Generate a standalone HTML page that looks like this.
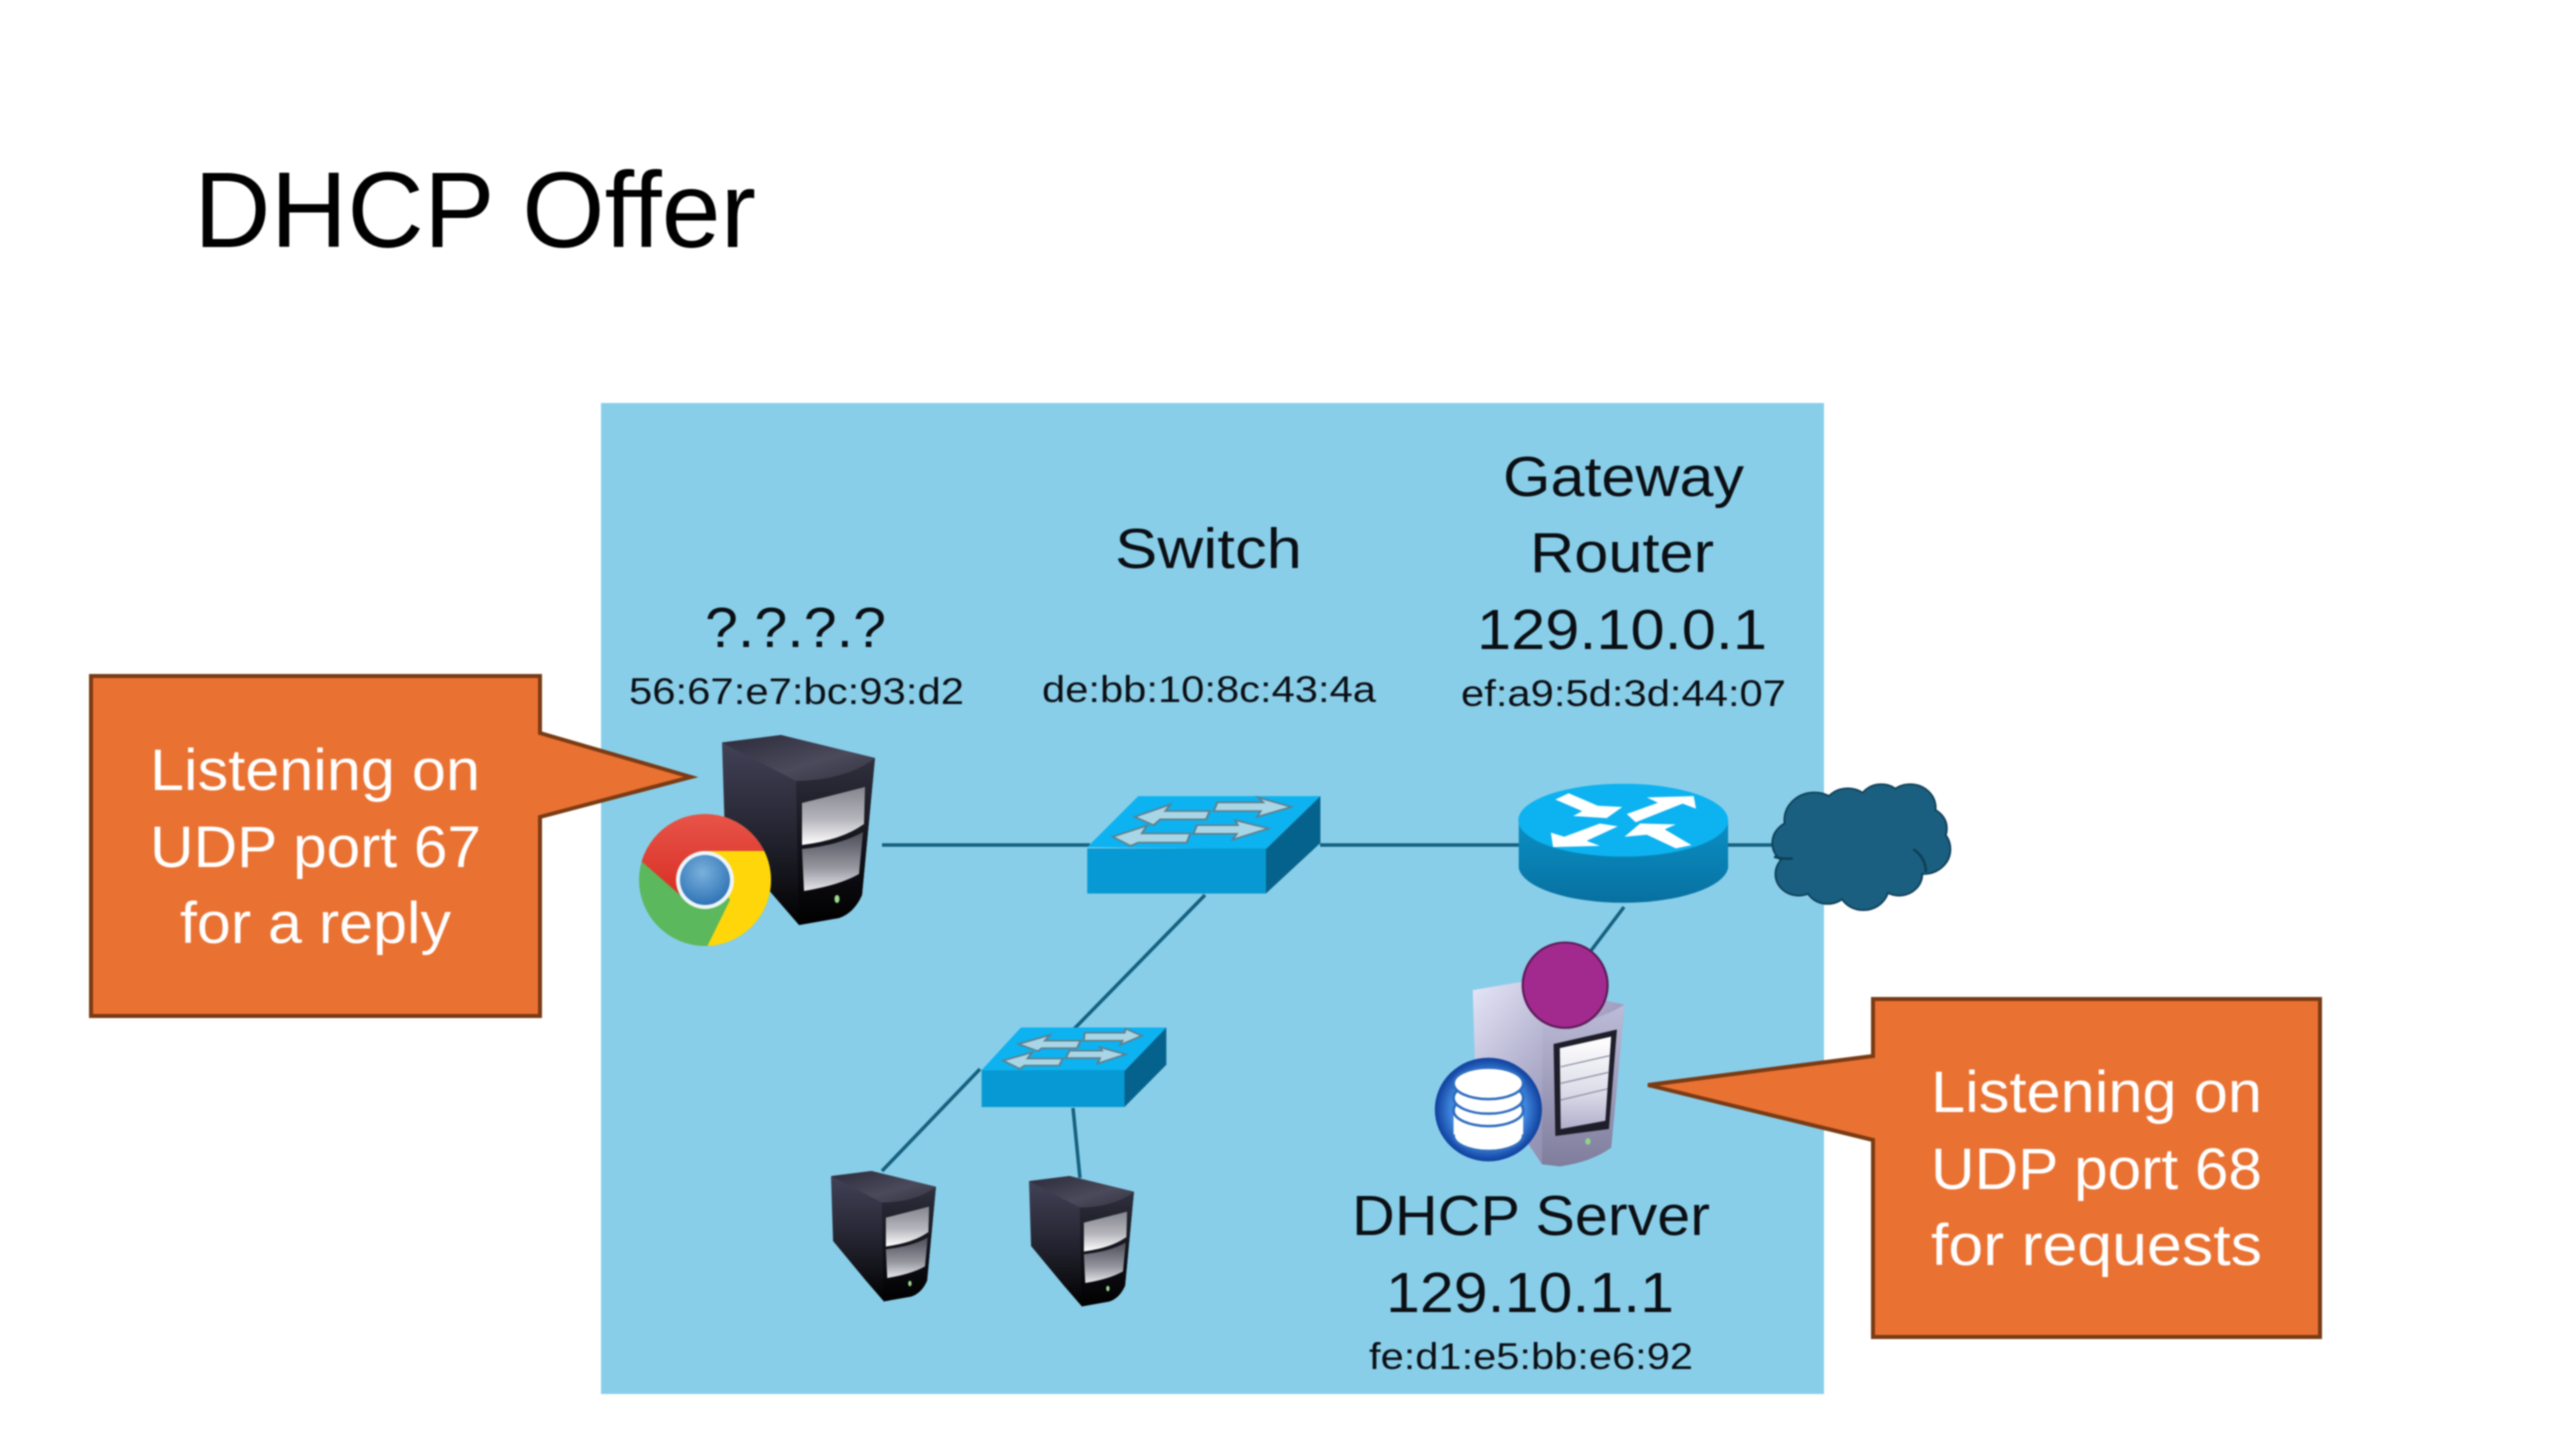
<!DOCTYPE html>
<html><head><meta charset="utf-8"><title>DHCP Offer</title>
<style>html,body{margin:0;padding:0;background:#fff}svg{display:block;filter:blur(.7px)}text{font-family:"Liberation Sans",sans-serif}</style>
</head><body>
<svg xmlns="http://www.w3.org/2000/svg" width="2560" height="1440" viewBox="0 0 2560 1440">
<defs>
<linearGradient id="tTop" x1="0" y1="0" x2="1" y2="1"><stop offset="0" stop-color="#2b2b3a"/><stop offset=".6" stop-color="#4a4a5c"/><stop offset="1" stop-color="#33333f"/></linearGradient>
<linearGradient id="tSide" x1="0" y1="0" x2="0" y2="1"><stop offset="0" stop-color="#44445a"/><stop offset=".55" stop-color="#22222e"/><stop offset="1" stop-color="#000"/></linearGradient>
<linearGradient id="tFront" x1="0" y1="0" x2="0" y2="1"><stop offset="0" stop-color="#30303e"/><stop offset=".5" stop-color="#14141c"/><stop offset="1" stop-color="#000"/></linearGradient>
<linearGradient id="bay1" x1="0" y1="0" x2="0" y2="1"><stop offset="0" stop-color="#85858e"/><stop offset=".55" stop-color="#b4b4bb"/><stop offset="1" stop-color="#fff"/></linearGradient>
<linearGradient id="bay2" x1="0" y1="0" x2="0" y2="1"><stop offset="0" stop-color="#4d4d58"/><stop offset=".6" stop-color="#95959e"/><stop offset="1" stop-color="#e6e6ec"/></linearGradient>
<linearGradient id="rBody" x1="0" y1="0" x2="0" y2="1"><stop offset="0" stop-color="#0a8fc4"/><stop offset="1" stop-color="#0770a0"/></linearGradient>
<linearGradient id="dSide" x1="0" y1="0" x2="1" y2="1"><stop offset="0" stop-color="#e6e6f8"/><stop offset=".6" stop-color="#9a98ba"/><stop offset="1" stop-color="#7a7896"/></linearGradient>
<linearGradient id="dFront" x1="0" y1="0" x2="0" y2="1"><stop offset="0" stop-color="#bdbcd8"/><stop offset="1" stop-color="#7f7d9c"/></linearGradient>
<linearGradient id="dScreen" x1="0" y1="0" x2="0" y2="1"><stop offset="0" stop-color="#fff"/><stop offset=".6" stop-color="#dcdce8"/><stop offset="1" stop-color="#b0aecb"/></linearGradient>
<radialGradient id="blue" cx=".45" cy=".35" r=".7"><stop offset="0" stop-color="#7ab0dc"/><stop offset="1" stop-color="#2a70b4"/></radialGradient>
<radialGradient id="dbRing" cx=".5" cy=".5" r=".5"><stop offset=".7" stop-color="#3f86dc"/><stop offset="1" stop-color="#0f3f9e"/></radialGradient>
<linearGradient id="cRed" x1="0" y1="0" x2="0" y2="1"><stop offset="0" stop-color="#E8554A"/><stop offset="1" stop-color="#D92F25"/></linearGradient>
<clipPath id="chromeClip"><circle cx="705" cy="880" r="66"/></clipPath>
<g id="tower">
<path d="M0 7.5 L59 0 L153 23 L140 160 Q132 178 117 183 L77 190 L51 160 L3 102 Z" fill="url(#tSide)"/>
<path d="M74 46 Q125 45 153 23 L140 160 Q132 178 117 183 L77 190 Z" fill="url(#tFront)"/>
<path d="M0 7.5 L59 0 L153 23 Q125 45 74 46 Z" fill="url(#tTop)"/>
<path d="M80 68 L143 52 L142 89 Q120 105 80 110 Z" fill="url(#bay1)"/>
<path d="M80 114 Q118 110 141 97 L137 139 Q118 150 82 156 Z" fill="url(#bay2)"/>
<ellipse cx="115" cy="164" rx="2.5" ry="4" fill="#9bdc8e"/>
</g>
</defs>

<rect width="2560" height="1440" fill="#fff"/>
<rect x="601" y="403" width="1223" height="991" fill="#89CEE9"/>

<!-- connectors -->
<g stroke="#14607F" stroke-width="3.5" fill="none">
<line x1="882" y1="845" x2="1090" y2="845"/>
<line x1="1320" y1="845" x2="1520" y2="845"/>
<line x1="1728" y1="845" x2="1775" y2="845"/>
<line x1="1205" y1="895" x2="1074" y2="1029"/>
<line x1="980" y1="1069" x2="882" y2="1171"/>
<line x1="1073" y1="1108" x2="1080" y2="1178"/>
<line x1="1624" y1="907" x2="1590" y2="952"/>
</g>

<!-- left callout -->
<polygon points="91,676 540,676 540,733 691,777 540,817 540,1016 91,1016" fill="#E97132" stroke="#7A3B14" stroke-width="4" stroke-linejoin="miter"/>
<!-- right callout -->
<polygon points="1873,999 2320,999 2320,1337 1873,1337 1873,1140 1648,1085 1873,1056" fill="#E97132" stroke="#7A3B14" stroke-width="4"/>

<!-- towers -->
<use href="#tower" transform="translate(722,735)"/>
<use href="#tower" transform="translate(831,1171) scale(.686)"/>
<use href="#tower" transform="translate(1029,1176) scale(.686)"/>

<!-- chrome -->
<g clip-path="url(#chromeClip)">
<rect x="630" y="805" width="150" height="150" fill="#5CB85C"/>
<polygon points="640,860 655,810 770,810 775,851 705,851 680,895" fill="url(#cRed)"/>
<polygon points="705,851 780,851 780,955 703,955 730,900" fill="#FFD60A"/>
</g>
<circle cx="705" cy="880" r="29" fill="#EEF5F8"/>
<circle cx="705" cy="880" r="25" fill="url(#blue)"/>

<!-- big switch (zoom coordinates) -->
<g transform="translate(600,700) scale(.5102,.4145)">
<polygon points="955,355 1055,232 1412,232 1305,360" fill="#0DB2F0"/>
<rect x="955" y="358" width="350" height="109" fill="#0799D3"/>
<polygon points="1305,360 1412,232 1412,345 1305,467" fill="#05628C"/>
<g fill="#A9D6E6" stroke="#5f7f8c" stroke-width="4">
<polygon points="1048,282 1118,252 1108,268 1195,268 1188,288 1098,288 1085,302"/>
<polygon points="1355,258 1288,282 1295,268 1203,268 1210,247 1300,247 1290,235"/>
<polygon points="1005,330 1072,303 1062,322 1157,322 1150,344 1055,344 1040,352"/>
<polygon points="1310,310 1240,337 1248,323 1163,323 1170,302 1250,302 1245,290"/>
</g>
<!-- small switch -->
<polygon points="748,893 825,790 1110,790 1028,895" fill="#0DB2F0"/>
<rect x="748" y="893" width="280" height="89" fill="#0799D3"/>
<polygon points="1028,895 1110,790 1110,880 1028,982" fill="#05628C"/>
<g fill="#A9D6E6" stroke="#5f7f8c" stroke-width="4">
<polygon points="820,830 882,808 872,822 942,822 935,840 866,840 858,847"/>
<polygon points="1062,810 1020,832 1024,822 948,822 950,803 1028,803 1030,793"/>
<polygon points="790,870 847,850 838,865 907,865 900,882 832,882 823,890"/>
<polygon points="1030,855 975,877 980,864 913,864 920,846 984,846 980,838"/>
</g>
</g>

<!-- router + cloud + DHCP server (zoom coordinates) -->
<g transform="translate(1350,700) scale(.4464,.4145)">
<path d="M378 290 L378 405 A235 90 0 0 0 847 405 L847 290 Z" fill="url(#rBody)"/>
<ellipse cx="612" cy="290" rx="235" ry="88" fill="#0DB2F0"/>
<g fill="#fff">
<polygon points="460,240 490,225 555,255 610,258 575,285 500,280 520,268"/>
<polygon points="620,275 690,248 665,235 770,232 775,262 745,250 640,295"/>
<polygon points="600,305 530,340 560,352 455,355 450,320 480,330 560,298"/>
<polygon points="765,350 730,358 665,325 615,330 650,298 730,300 705,312"/>
</g>
<!-- cloud -->
<g fill="#0E3F58" stroke="#0E3F58" stroke-width="8">
<circle cx="1040" cy="290" r="65"/><circle cx="1115" cy="270" r="55"/><circle cx="1190" cy="255" r="50"/><circle cx="1255" cy="260" r="55"/><circle cx="1285" cy="310" r="50"/><circle cx="1285" cy="360" r="58"/><circle cx="1230" cy="420" r="50"/><circle cx="1150" cy="450" r="55"/><circle cx="1070" cy="440" r="50"/><circle cx="1005" cy="420" r="50"/><circle cx="1000" cy="345" r="52"/>
</g>
<g fill="#1A5F80">
<circle cx="1040" cy="290" r="65"/><circle cx="1115" cy="270" r="55"/><circle cx="1190" cy="255" r="50"/><circle cx="1255" cy="260" r="55"/><circle cx="1285" cy="310" r="50"/><circle cx="1285" cy="360" r="58"/><circle cx="1230" cy="420" r="50"/><circle cx="1150" cy="450" r="55"/><circle cx="1070" cy="440" r="50"/><circle cx="1005" cy="420" r="50"/><circle cx="1000" cy="345" r="52"/><circle cx="1150" cy="350" r="125"/>
</g>
<path d="M1262 360 Q1290 380 1290 415 M950 378 Q970 385 992 382" fill="none" stroke="#0E3F58" stroke-width="6"/>
<!-- DHCP tower -->
<path d="M275 700 L385 680 L615 735 L585 1080 Q540 1115 470 1125 L430 1120 L280 880 Z" fill="url(#dSide)"/>
<path d="M432 790 Q540 785 615 735 L585 1080 Q540 1115 470 1125 L430 1120 Z" fill="url(#dFront)"/>
<polygon points="456,830 598,795 580,1035 460,1052" fill="#1e1e2a"/>
<polygon points="470,840 585,812 572,1015 472,1035" fill="url(#dScreen)"/>
<g stroke="#8f8fa8" stroke-width="3" fill="none">
<line x1="472" y1="885" x2="582" y2="858"/><line x1="472" y1="925" x2="580" y2="898"/><line x1="472" y1="965" x2="577" y2="938"/>
</g>
<ellipse cx="533" cy="1065" rx="6" ry="8" fill="#8fd48a"/>
<!-- db badge -->
<ellipse cx="310" cy="988" rx="120" ry="125" fill="url(#dbRing)"/>
<g fill="#fff" stroke="#2d6cc0" stroke-width="6">
<ellipse cx="310" cy="1050" rx="78" ry="38"/>
<rect x="232" y="990" width="156" height="58" stroke="none"/>
<ellipse cx="310" cy="990" rx="78" ry="38"/>
<ellipse cx="310" cy="960" rx="78" ry="38"/>
<ellipse cx="310" cy="925" rx="78" ry="38"/>
</g>
<!-- magenta dot -->
<ellipse cx="482" cy="688" rx="95" ry="103" fill="#A22A8F" stroke="#5f1a58" stroke-width="5"/>
</g>

<!-- text -->
<text x="194" y="247" font-size="108" fill="#000" textLength="562" lengthAdjust="spacingAndGlyphs">DHCP Offer</text>
<g fill="#0b0f14">
<text x="705" y="647" font-size="57" textLength="181" lengthAdjust="spacingAndGlyphs">?.?.?.?</text>
<text x="629" y="704" font-size="37" textLength="335" lengthAdjust="spacingAndGlyphs">56:67:e7:bc:93:d2</text>
<text x="1115" y="568" font-size="57" textLength="187" lengthAdjust="spacingAndGlyphs">Switch</text>
<text x="1042" y="702" font-size="37" textLength="334" lengthAdjust="spacingAndGlyphs">de:bb:10:8c:43:4a</text>
<text x="1503" y="496" font-size="57" textLength="241" lengthAdjust="spacingAndGlyphs">Gateway</text>
<text x="1530" y="572" font-size="57" textLength="184" lengthAdjust="spacingAndGlyphs">Router</text>
<text x="1477" y="649" font-size="57" textLength="290" lengthAdjust="spacingAndGlyphs">129.10.0.1</text>
<text x="1461" y="706" font-size="37" textLength="325" lengthAdjust="spacingAndGlyphs">ef:a9:5d:3d:44:07</text>
<text x="1352" y="1235" font-size="57" textLength="358" lengthAdjust="spacingAndGlyphs">DHCP Server</text>
<text x="1386" y="1312" font-size="57" textLength="288" lengthAdjust="spacingAndGlyphs">129.10.1.1</text>
<text x="1369" y="1369" font-size="37" textLength="324" lengthAdjust="spacingAndGlyphs">fe:d1:e5:bb:e6:92</text>
</g>
<g fill="#fff">
<text x="150" y="790" font-size="58" textLength="330" lengthAdjust="spacingAndGlyphs">Listening on</text>
<text x="150" y="867" font-size="58" textLength="331" lengthAdjust="spacingAndGlyphs">UDP port 67</text>
<text x="180" y="943" font-size="58" textLength="271" lengthAdjust="spacingAndGlyphs">for a reply</text>
<text x="1931" y="1112" font-size="58" textLength="331" lengthAdjust="spacingAndGlyphs">Listening on</text>
<text x="1931" y="1189" font-size="58" textLength="331" lengthAdjust="spacingAndGlyphs">UDP port 68</text>
<text x="1931" y="1265" font-size="58" textLength="331" lengthAdjust="spacingAndGlyphs">for requests</text>
</g>
</svg>
</body></html>
